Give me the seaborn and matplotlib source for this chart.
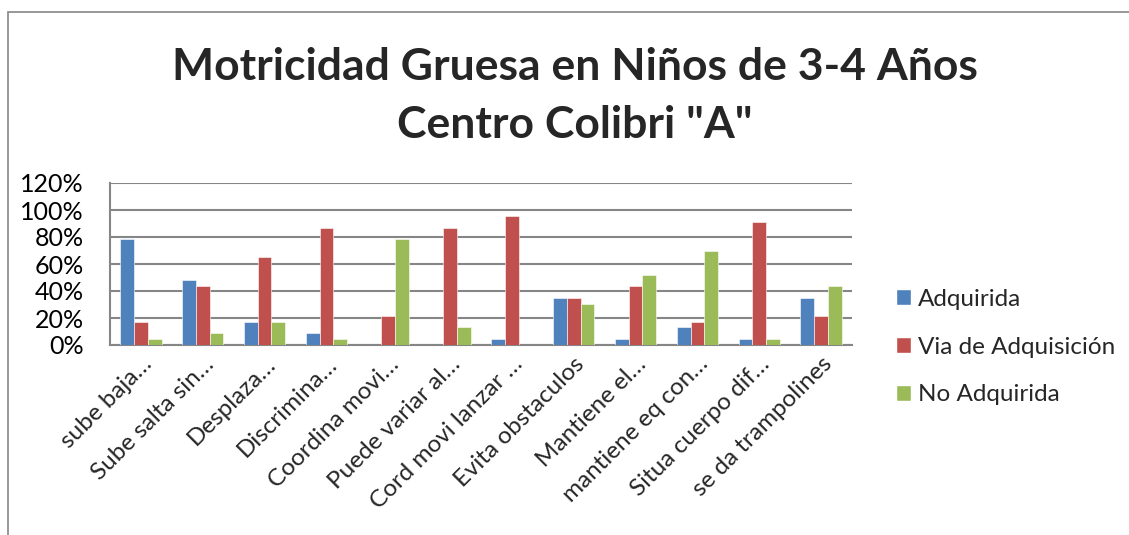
import matplotlib
matplotlib.use("Agg")
import matplotlib.pyplot as plt
import seaborn as sns
import pandas as pd
from matplotlib.patches import Rectangle
from matplotlib.ticker import FuncFormatter

categories = ["sube baja…", "Sube salta sin…", "Desplaza…", "Discrimina…",
              "Coordina movi…", "Puede variar al…", "Cord movi lanzar …",
              "Evita obstaculos", "Mantiene el…", "mantiene eq con…",
              "Situa cuerpo dif…", "se da trampolines"]
series = ["Adquirida", "Via de Adquisición", "No Adquirida"]
adquirida = [78.26, 47.83, 17.39, 8.70, 0.0, 0.0, 4.35, 34.78, 4.35, 13.04, 4.35, 34.78]
via_adq = [17.39, 43.48, 65.22, 86.96, 21.74, 86.96, 95.65, 34.78, 43.48, 17.39, 91.30, 21.74]
no_adq = [4.35, 8.70, 17.39, 4.35, 78.26, 13.04, 0.0, 30.43, 52.17, 69.57, 4.35, 43.48]
yticks = [0, 20, 40, 60, 80, 100, 120]
title_lines = ["Motricidad Gruesa en Niños de 3-4 Años", "Centro Colibri \"A\""]
colors = ["#4F81BD", "#C0504D", "#9BBB59"]

rows = []
for s, vals in zip(series, [adquirida, via_adq, no_adq]):
    for c, v in zip(categories, vals):
        rows.append({"cat": c, "serie": s, "val": v})
df = pd.DataFrame(rows)

sns.set_theme(style="white")
plt.rcParams["font.family"] = ["Lato", "DejaVu Sans"]

W, H = 1129, 535
fig = plt.figure(figsize=(W / 100, H / 100), dpi=100)

# outer chart frame
fig.patches.append(Rectangle((8 / W, -0.1), 1.2, (H - 12) / H + 0.1,
                             transform=fig.transFigure, fill=False,
                             edgecolor="#868686", linewidth=1.2))

ax = fig.add_axes([110 / W, (H - 345) / H, (852 - 110) / W, (345 - 183) / H])
sns.barplot(data=df, x="cat", y="val", hue="serie", order=categories,
            hue_order=series, palette=colors, width=0.667, ax=ax,
            edgecolor="white", linewidth=0.4, saturation=1, zorder=3)

ax.set_ylim(0, 120)
ax.set_xlim(-0.5, len(categories) - 0.5)
ax.set_yticks(yticks)
ax.yaxis.set_major_formatter(FuncFormatter(lambda v, p: f"{int(v)}%"))
ax.yaxis.grid(True, color="#868686", linewidth=1.5, zorder=0)
ax.set_axisbelow(True)
ax.set_xlabel("")
ax.set_ylabel("")
for s in ["top", "right"]:
    ax.spines[s].set_visible(False)
for s in ["left", "bottom"]:
    ax.spines[s].set_color("#868686")
    ax.spines[s].set_linewidth(1.5)
ax.tick_params(axis="y", labelsize=18, pad=19, length=0, colors="black")
ax.tick_params(axis="x", labelsize=17.5, length=0, pad=6)
for lab in ax.get_xticklabels():
    lab.set_rotation(45)
    lab.set_ha("right")
    lab.set_va("top")
    lab.set_rotation_mode("anchor")

ax.get_legend().remove()
handles = [Rectangle((0, 0), 1, 1, facecolor=c) for c in colors]
fig.legend(handles, series, loc="center left",
           bbox_to_anchor=(886 / W, (H - 347) / H), frameon=False,
           fontsize=17.5, handlelength=0.62, handleheight=0.62,
           handletextpad=0.3, labelspacing=1.1, borderaxespad=0)

fig.text(575 / W, (H - 67) / H, title_lines[0], ha="center", va="center",
         fontsize=32, fontweight="bold")
fig.text(575 / W, (H - 125) / H, title_lines[1], ha="center", va="center",
         fontsize=32, fontweight="bold")

fig.savefig("out.png", dpi=100, facecolor="white")
